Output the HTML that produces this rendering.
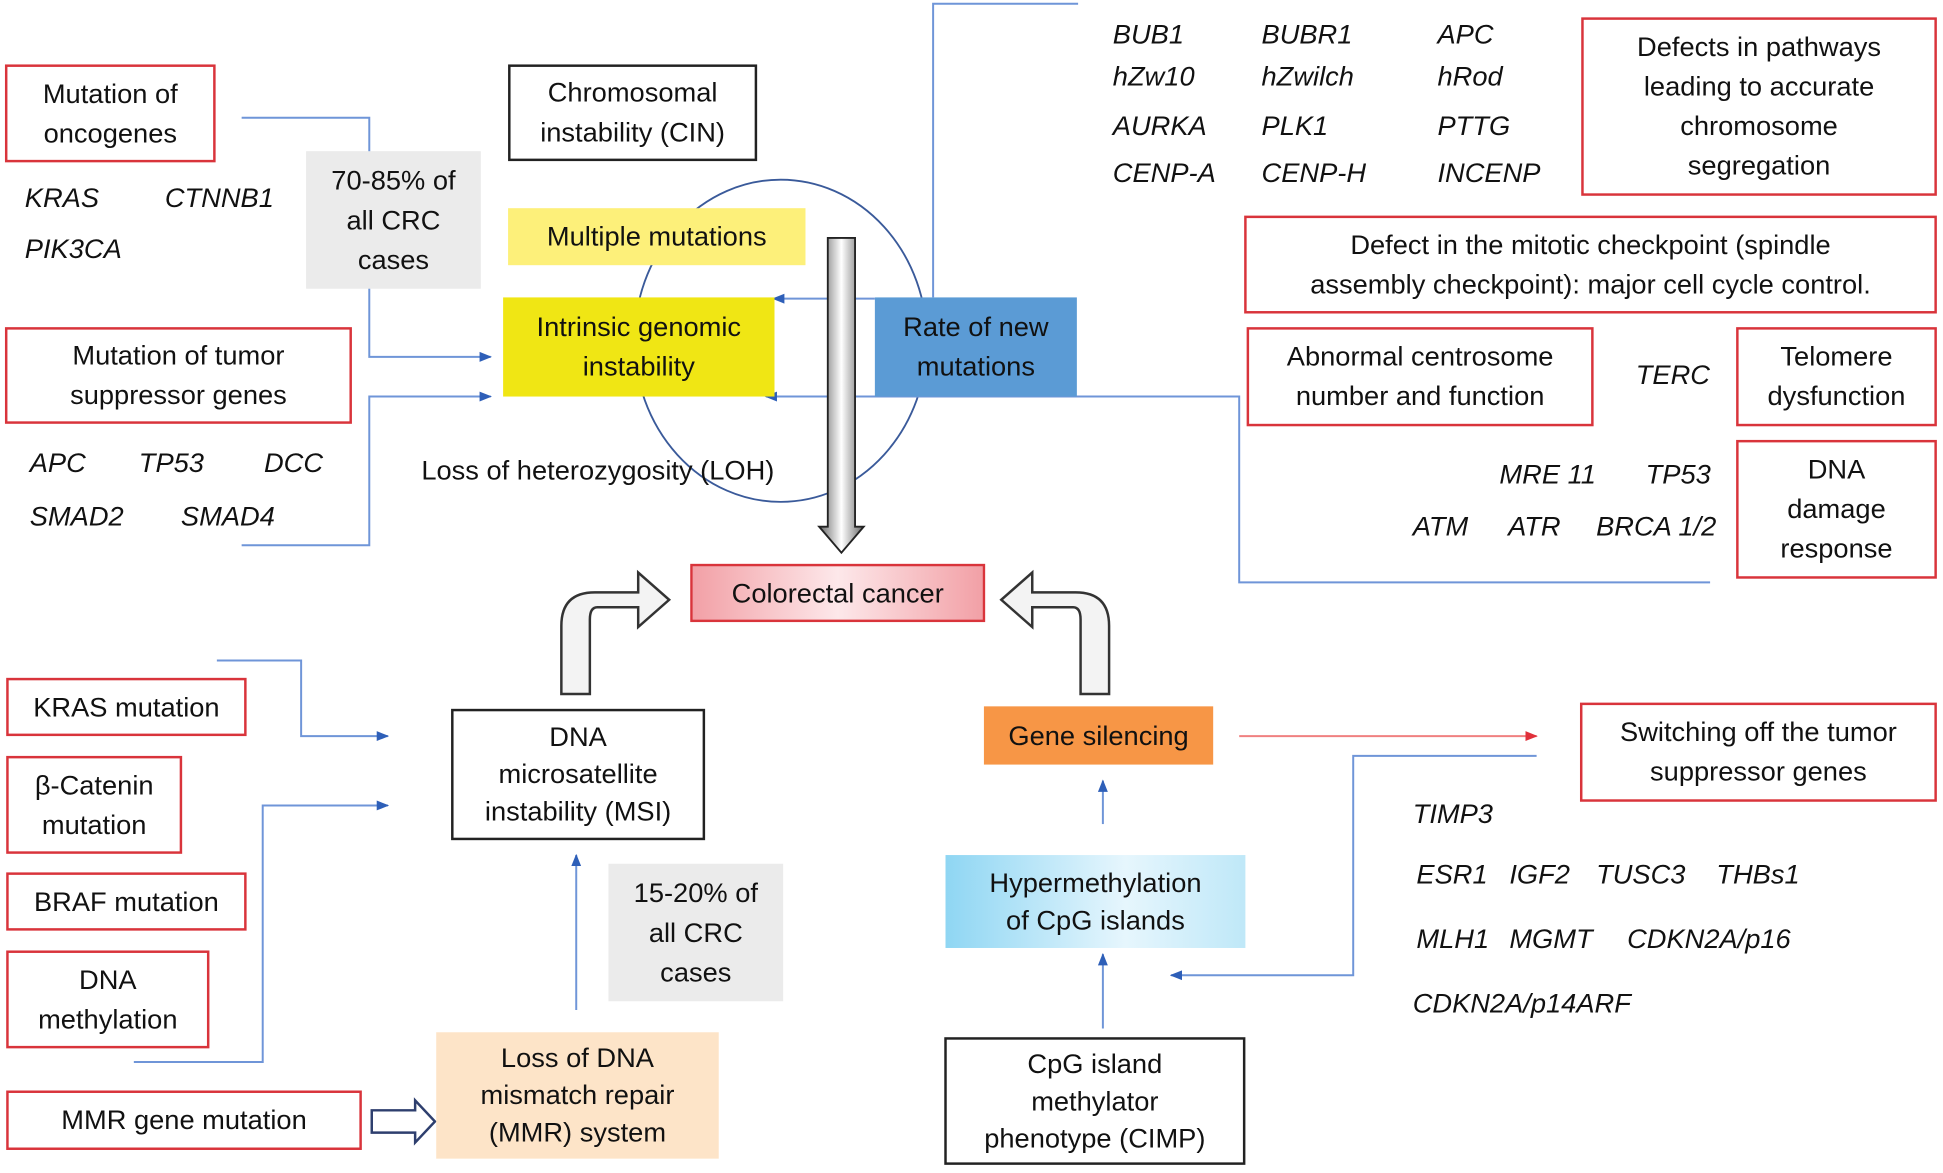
<!DOCTYPE html>
<html><head><meta charset="utf-8"><style>
html,body{margin:0;padding:0;background:#fff;width:1943px;height:1173px;overflow:hidden}
#s{position:absolute;left:0;top:0;width:1568px;height:946px;transform:scale(1.2392);transform-origin:0 0;font-family:"Liberation Sans",sans-serif;font-size:22px;color:#111}
.b{position:absolute;box-sizing:border-box;display:flex;align-items:center;justify-content:center;text-align:center;line-height:32px}
.r{border:2px solid #d9343b;background:#fff}
.k{border:2px solid #222;background:#fff}
.g{background:#ebebeb}
.i{position:absolute;font-style:italic;line-height:24px;white-space:nowrap}
svg{position:absolute;left:0;top:0}
</style></head><body><div id="s">
<svg width="1568" height="946">
<defs>
<marker id="a" markerWidth="10" markerHeight="10" refX="9" refY="5" orient="auto" markerUnits="userSpaceOnUse"><path d="M0,1 L10,5 L0,9z" fill="#2e5fb8"/></marker>
<marker id="ar" markerWidth="10" markerHeight="10" refX="9" refY="5" orient="auto" markerUnits="userSpaceOnUse"><path d="M0,1 L10,5 L0,9z" fill="#e0303a"/></marker>
<linearGradient id="gv" x1="0" x2="1"><stop offset="0" stop-color="#666"/><stop offset=".5" stop-color="#fff"/><stop offset="1" stop-color="#666"/></linearGradient>
</defs>
<ellipse cx="630" cy="275" rx="118" ry="130" fill="none" stroke="#3a5a9a" stroke-width="1.5"/>
<g stroke="#6f95d8" stroke-width="1.6" fill="none">
<polyline points="195,95 298,95 298,288 396,288" marker-end="url(#a)"/>
<polyline points="195,440 298,440 298,320 396,320" marker-end="url(#a)"/>
<polyline points="870,3 753,3 753,240"/>
<line x1="706" y1="241" x2="624" y2="241" marker-end="url(#a)"/>
<polyline points="1380,470 1000,470 1000,320 618,320" marker-end="url(#a)"/>
<polyline points="175,533 243,533 243,594 313,594" marker-end="url(#a)"/>
<polyline points="108,857 212,857 212,650 313,650" marker-end="url(#a)"/>
<line x1="465" y1="815" x2="465" y2="690" marker-end="url(#a)"/>
<line x1="890" y1="665" x2="890" y2="630" marker-end="url(#a)"/>
<line x1="890" y1="830" x2="890" y2="770" marker-end="url(#a)"/>
<polyline points="1240,610 1092,610 1092,787 945,787" marker-end="url(#a)"/>
</g>
<line x1="1000" y1="594" x2="1240" y2="594" stroke="#f08080" stroke-width="1.6" marker-end="url(#ar)"/>
<path d="M668,192 L690,192 L690,425 L697,425 L679,446 L661,425 L668,425z" fill="url(#gv)" stroke="#222" stroke-width="1.5"/>
<path d="M300,896 L335,896 L335,888 L351,905 L335,922 L335,914 L300,914z" fill="#fff" stroke="#2e3f6e" stroke-width="2"/>
<path d="M453,560 L453,505 Q453,478 480,478 L515,478 L515,462 L540,484 L515,506 L515,490 L482,490 Q476,490 476,500 L476,560z" fill="#f3f3f3" stroke="#333" stroke-width="2"/>
<path d="M895,560 L895,505 Q895,478 868,478 L833,478 L833,462 L808,484 L833,506 L833,490 L866,490 Q872,490 872,500 L872,560z" fill="#f3f3f3" stroke="#333" stroke-width="2"/>
</svg>
<div class="b r" style="left:4px;top:52px;width:170px;height:79px">Mutation of<br>oncogenes</div>
<div class="i" style="left:20px;top:148px">KRAS</div><div class="i" style="left:133px;top:148px">CTNNB1</div><div class="i" style="left:20px;top:189px">PIK3CA</div>
<div class="b g" style="left:247px;top:122px;width:141px;height:111px">70-85% of<br>all CRC<br>cases</div>
<div class="b k" style="left:410px;top:52px;width:201px;height:78px">Chromosomal<br>instability (CIN)</div>
<div class="b" style="left:410px;top:168px;width:240px;height:46px;background:#fdf07a">Multiple mutations</div>
<div class="b" style="left:406px;top:240px;width:219px;height:80px;background:#f0e614">Intrinsic genomic<br>instability</div>
<div class="b" style="left:706px;top:240px;width:163px;height:80px;background:#5b9bd5">Rate of new<br>mutations</div>
<div class="i" style="left:340px;top:368px;font-style:normal">Loss of heterozygosity (LOH)</div>
<div class="b r" style="left:4px;top:264px;width:280px;height:78px">Mutation of tumor<br>suppressor genes</div>
<div class="i" style="left:24px;top:362px">APC</div><div class="i" style="left:112px;top:362px">TP53</div><div class="i" style="left:213px;top:362px">DCC</div>
<div class="i" style="left:24px;top:405px">SMAD2</div><div class="i" style="left:146px;top:405px">SMAD4</div>
<div class="i" style="left:898px;top:16px">BUB1</div><div class="i" style="left:1018px;top:16px">BUBR1</div><div class="i" style="left:1160px;top:16px">APC</div>
<div class="i" style="left:898px;top:50px">hZw10</div><div class="i" style="left:1018px;top:50px">hZwilch</div><div class="i" style="left:1160px;top:50px">hRod</div>
<div class="i" style="left:898px;top:90px">AURKA</div><div class="i" style="left:1018px;top:90px">PLK1</div><div class="i" style="left:1160px;top:90px">PTTG</div>
<div class="i" style="left:898px;top:128px">CENP-A</div><div class="i" style="left:1018px;top:128px">CENP-H</div><div class="i" style="left:1160px;top:128px">INCENP</div>
<div class="b r" style="left:1276px;top:14px;width:287px;height:144px">Defects in pathways<br>leading to accurate<br>chromosome<br>segregation</div>
<div class="b r" style="left:1004px;top:174px;width:559px;height:79px">Defect in the mitotic checkpoint (spindle<br>assembly checkpoint): major cell cycle control.</div>
<div class="b r" style="left:1006px;top:264px;width:280px;height:80px">Abnormal centrosome<br>number and function</div>
<div class="i" style="left:1320px;top:291px">TERC</div>
<div class="b r" style="left:1401px;top:264px;width:162px;height:80px">Telomere<br>dysfunction</div>
<div class="i" style="left:1210px;top:371px">MRE 11</div><div class="i" style="left:1328px;top:371px">TP53</div>
<div class="i" style="left:1140px;top:413px">ATM</div><div class="i" style="left:1217px;top:413px">ATR</div><div class="i" style="left:1288px;top:413px">BRCA 1/2</div>
<div class="b r" style="left:1401px;top:355px;width:162px;height:112px">DNA<br>damage<br>response</div>
<div class="b r" style="left:557px;top:455px;width:238px;height:47px;background:linear-gradient(90deg,#f2a0a6,#fde8ea 50%,#f2a0a6)">Colorectal cancer</div>
<div class="b r" style="left:5px;top:547px;width:194px;height:47px">KRAS mutation</div>
<div class="b r" style="left:5px;top:610px;width:142px;height:79px">β-Catenin<br>mutation</div>
<div class="b r" style="left:5px;top:704px;width:194px;height:47px">BRAF mutation</div>
<div class="b r" style="left:5px;top:767px;width:164px;height:79px">DNA<br>methylation</div>
<div class="b r" style="left:5px;top:880px;width:287px;height:48px">MMR gene mutation</div>
<div class="b k" style="left:364px;top:572px;width:205px;height:106px;line-height:30px">DNA<br>microsatellite<br>instability (MSI)</div>
<div class="b g" style="left:491px;top:697px;width:141px;height:111px">15-20% of<br>all CRC<br>cases</div>
<div class="b" style="left:352px;top:833px;width:228px;height:102px;background:#fde4c8;line-height:30px">Loss of DNA<br>mismatch repair<br>(MMR) system</div>
<div class="b" style="left:794px;top:570px;width:185px;height:47px;background:#f79646">Gene silencing</div>
<div class="b r" style="left:1275px;top:567px;width:288px;height:80px">Switching off the tumor<br>suppressor genes</div>
<div class="i" style="left:1140px;top:645px">TIMP3</div>
<div class="i" style="left:1143px;top:694px">ESR1</div><div class="i" style="left:1218px;top:694px">IGF2</div><div class="i" style="left:1288px;top:694px">TUSC3</div><div class="i" style="left:1385px;top:694px">THBs1</div>
<div class="i" style="left:1143px;top:746px">MLH1</div><div class="i" style="left:1218px;top:746px">MGMT</div><div class="i" style="left:1313px;top:746px">CDKN2A/p16</div>
<div class="i" style="left:1140px;top:798px">CDKN2A/p14ARF</div>
<div class="b" style="left:763px;top:690px;width:242px;height:75px;background:linear-gradient(90deg,#8fd6f3,#e6f6fd 60%,#bfe8f8);line-height:30px">Hypermethylation<br>of CpG islands</div>
<div class="b k" style="left:762px;top:837px;width:243px;height:103px;line-height:30px">CpG island<br>methylator<br>phenotype (CIMP)</div>
</div></body></html>
